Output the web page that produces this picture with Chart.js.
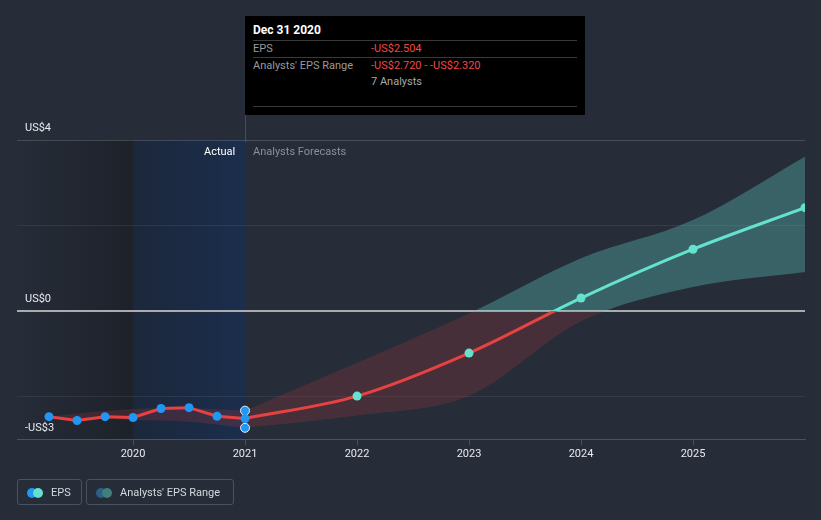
<!DOCTYPE html>
<html>
<head>
<meta charset="utf-8">
<script src="https://cdn.jsdelivr.net/npm/chart.js@4"></script>
<style>
  html, body { margin:0; padding:0; background:#262c38; }
  body { width:821px; height:520px; position:relative; overflow:hidden; font-family: Roboto, "Noto Sans", sans-serif; }
  #c { position:absolute; left:0; top:0; }
  .tip { position:absolute; left:245px; top:16px; width:340px; height:99px; background:#000; }
  .tip .t { position:absolute; left:8px; font-size:11px; white-space:nowrap; line-height:13px; }
  .tip .hr { position:absolute; left:8px; width:324px; height:1px; background:#3a3a3a; }
  .lbl { position:absolute; font-size:11px; white-space:nowrap; line-height:13px; }
  .leg { position:absolute; top:479px; height:26px; border:1px solid #4a5160; border-radius:3px; box-sizing:border-box; }
  .leg span { position:absolute; top:6px; font-size:11px; color:#d5d8de; line-height:13px; white-space:nowrap; }
  .dot { position:absolute; top:8px; width:10px; height:10px; border-radius:50%; }
</style>
</head>
<body>
<canvas id="c" width="821" height="520"></canvas>

<div class="tip">
  <div class="t" style="top:8px;color:#fff;font-weight:bold;font-size:12px;">Dec 31 2020</div>
  <div class="hr" style="top:24px"></div>
  <div class="t" style="top:26px;color:#9a9a9a;">EPS</div>
  <div class="t" style="top:26px;left:126px;color:#f04848;">-US$2.504</div>
  <div class="hr" style="top:41px"></div>
  <div class="t" style="top:43px;color:#9a9a9a;">Analysts' EPS Range</div>
  <div class="t" style="top:43px;left:126px;color:#f04848;">-US$2.720 - -US$2.320</div>
  <div class="t" style="top:59px;left:126px;color:#a8a8a8;">7 Analysts</div>
  <div class="hr" style="top:90px"></div>
</div>

<div class="lbl" style="left:204px;top:145px;color:#ffffff;">Actual</div>
<div class="lbl" style="left:253px;top:145px;color:#8b909a;">Analysts Forecasts</div>

<div class="leg" style="left:17px;width:65px;">
  <div class="dot" style="left:9px;background:#2196f3;"></div>
  <div class="dot" style="left:15px;background:#64e0cf;"></div>
  <span style="left:33px;">EPS</span>
</div>
<div class="leg" style="left:86px;width:148px;">
  <div class="dot" style="left:9px;background:#2c5f86;"></div>
  <div class="dot" style="left:15px;background:#3f7f7c;"></div>
  <span style="left:33px;">Analysts' EPS Range</span>
</div>

<script>
// ---- data ----
const xTickYears = [2020, 2021, 2022, 2023, 2024, 2025];
const yTickValues = [-3, -2, 0, 2, 4];
const yTickLabels = { "4": "US$4", "0": "US$0", "-3": "-US$3" };

const histX    = [2019.25, 2019.5, 2019.75, 2020.0, 2020.25, 2020.5, 2020.75, 2021.0];
const histEPS  = [-2.46, -2.55, -2.46, -2.48, -2.27, -2.25, -2.45, -2.504];
const histHigh = [-2.46, -2.39, -2.33, -2.28, -2.27, -2.27, -2.29, -2.32];
const histLow  = [-2.46, -2.50, -2.51, -2.53, -2.55, -2.58, -2.64, -2.72];

const fcX    = [2021, 2022, 2023, 2024, 2025, 2026];
const fcEPS  = [-2.504, -1.98, -0.975, 0.31, 1.45, 2.42];
const fcHigh = [-2.32, -1.20, -0.05, 1.24, 2.13, 3.61];
const fcLow  = [-2.72, -2.43, -1.97, -0.23, 0.57, 0.92];

const rangeX = [2021, 2021];
const rangeY = [-2.32, -2.72];

// ---- colours ----
const RED = 'rgb(232,65,66)';
const TEAL = 'rgb(100,226,207)';
const BLUE = '#2196f3';
const RED_FILL = 'rgba(229,62,62,0.17)';
const TEAL_FILL = 'rgba(100,224,207,0.30)';

function pts(xs, ys) { return xs.map((x, i) => ({ x: x, y: ys[i] })); }

function splitGradient(ctx, above, below) {
  const chart = ctx.chart;
  const area = chart.chartArea;
  if (!area) return below;
  const z = chart.scales.y.getPixelForValue(0);
  let t = (z - area.top) / (area.bottom - area.top);
  t = Math.min(1, Math.max(0, t));
  const g = chart.ctx.createLinearGradient(0, area.top, 0, area.bottom);
  g.addColorStop(0, above);
  g.addColorStop(t, above);
  g.addColorStop(t, below);
  g.addColorStop(1, below);
  return g;
}

const bgPlugin = {
  id: 'bgRegions',
  beforeDraw(chart) {
    const c = chart.ctx, a = chart.chartArea, xs = chart.scales.x;
    c.save();
    c.fillStyle = '#262c38';
    c.fillRect(0, 0, chart.width, chart.height);
    const x2020 = xs.getPixelForValue(2020), x2021 = xs.getPixelForValue(2021);
    let g = c.createLinearGradient(a.left, 0, x2020, 0);
    g.addColorStop(0, 'rgba(22,25,31,0.0)');
    g.addColorStop(1, 'rgba(22,25,31,0.55)');
    c.fillStyle = g;
    c.fillRect(a.left, a.top, x2020 - a.left, a.bottom - a.top);
    g = c.createLinearGradient(x2020, 0, x2021, 0);
    g.addColorStop(0, 'rgba(24,38,60,0.75)');
    g.addColorStop(1, 'rgba(26,46,80,0.85)');
    c.fillStyle = g;
    c.fillRect(x2020, a.top, x2021 - x2020, a.bottom - a.top);
    c.restore();
  },
  afterDatasetsDraw(chart) {
    const c = chart.ctx, a = chart.chartArea, xs = chart.scales.x;
    const x = Math.round(xs.getPixelForValue(2021)) + 0.5;
    c.save();
    c.strokeStyle = 'rgba(70,110,170,0.55)';
    c.lineWidth = 1;
    c.beginPath(); c.moveTo(x, 115); c.lineTo(x, a.top + 2); c.stroke();
    c.restore();
  }
};

const bandCommon = {
  borderWidth: 0, pointRadius: 0, pointHoverRadius: 0,
  cubicInterpolationMode: 'monotone',
  backgroundColor: (ctx) => splitGradient(ctx, TEAL_FILL, RED_FILL)
};

new Chart(document.getElementById('c'), {
  type: 'line',
  data: {
    datasets: [
      { // history EPS
        data: pts(histX, histEPS), borderColor: RED, borderWidth: 3,
        pointRadius: 4.5, pointBackgroundColor: BLUE, pointBorderWidth: 0,
        tension: 0, fill: false
      },
      { // range markers at last actual
        data: pts(rangeX, rangeY), showLine: false,
        pointRadius: 4.5, pointBackgroundColor: BLUE, pointBorderColor: '#e8eef8', pointBorderWidth: 1
      },
      { // forecast EPS
        data: pts(fcX, fcEPS), borderWidth: 3,
        borderColor: (ctx) => splitGradient(ctx, TEAL, RED),
        cubicInterpolationMode: 'monotone',
        pointRadius: fcX.map((x, i) => i === 0 ? 0 : 4.5),
        pointBackgroundColor: TEAL, pointBorderWidth: 0, fill: false
      },
      Object.assign({ data: pts(histX, histHigh), fill: false }, bandCommon),
      Object.assign({ data: pts(histX, histLow), fill: '-1' }, bandCommon),
      Object.assign({ data: pts(fcX, fcHigh), fill: false }, bandCommon),
      Object.assign({ data: pts(fcX, fcLow), fill: '-1' }, bandCommon)
    ]
  },
  options: {
    responsive: false,
    devicePixelRatio: 1,
    animation: false,
    events: [],
    layout: { padding: { left: 1, right: 16, top: 140, bottom: 56 } },
    plugins: { legend: { display: false }, tooltip: { enabled: false } },
    scales: {
      x: {
        type: 'linear', min: 2018.964, max: 2026.0,
        afterBuildTicks: (s) => { s.ticks = xTickYears.map(v => ({ value: v })); },
        ticks: { color: '#e8eaee', font: { family: 'Roboto', size: 11 }, padding: 3,
                 callback: (v) => String(v), maxRotation: 0, autoSkip: false },
        grid: { display: true, drawOnChartArea: false, drawTicks: true, tickLength: 5, color: '#4a5160' },
        border: { display: true, color: '#4a5160', width: 1 }
      },
      y: {
        type: 'linear', min: -3, max: 4,
        afterBuildTicks: (s) => { s.ticks = yTickValues.map(v => ({ value: v })); },
        ticks: {
          mirror: true, padding: 8, labelOffset: -12,
          color: '#e8eaee', font: { family: 'Roboto', size: 11 },
          callback: (v) => yTickLabels[String(v)] || ''
        },
        grid: {
          drawTicks: false,
          color: (ctx) => {
            const v = ctx.tick.value;
            if (v === 0) return '#a9abae';
            if (v === 4 || v === -3) return 'rgba(255,255,255,0.16)';
            return 'rgba(255,255,255,0.07)';
          },
          lineWidth: (ctx) => ctx.tick.value === 0 ? 2 : 1
        },
        border: { display: false }
      }
    }
  },
  plugins: [bgPlugin]
});
</script>
</body>
</html>
